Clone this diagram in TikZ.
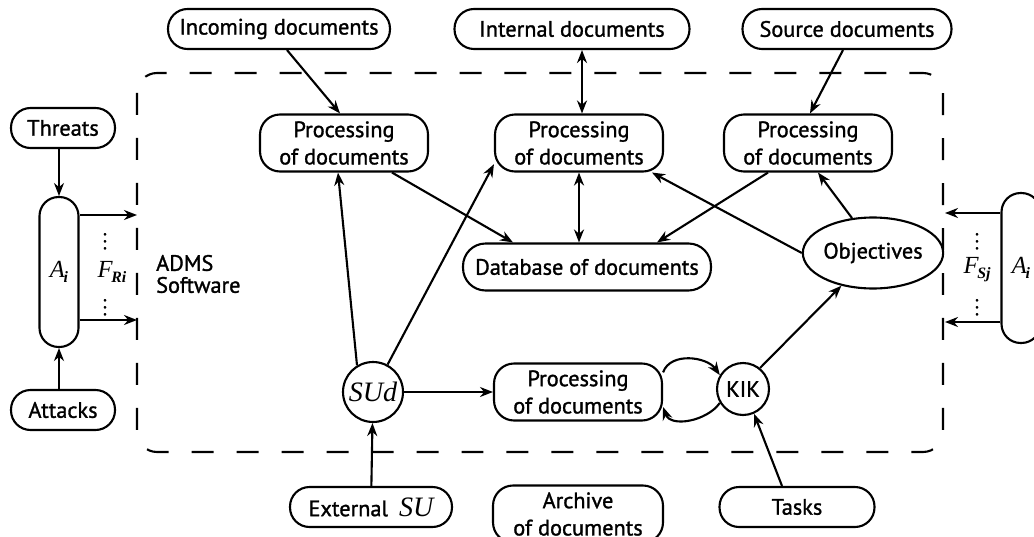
\documentclass[tikz,border=0pt]{standalone}
\usepackage{fontspec}
\setmainfont{PT Sans}[RawFeature={embolden=1.3}]
\newfontfamily\tms{Liberation Serif}
\usepackage{tikz}
\usetikzlibrary{arrows.meta,positioning,shapes.geometric}

\tikzset{
  box/.style={draw, line width=1.2pt, align=center, inner sep=0pt, font=\fontsize{12.7}{15.5}\selectfont},
  proc/.style={box, minimum width=3.36cm, minimum height=1.14cm, rounded corners=0.4cm},
  pill/.style={box, minimum height=0.8cm, rounded corners=0.39cm},
  tall/.style={box, minimum width=0.78cm, minimum height=3cm, rounded corners=0.38cm},
  dots/.style={inner sep=0pt, font=\fontsize{11}{11}\selectfont},
  link/.style={line width=1.2pt, -{Stealth[length=0.26cm,width=0.2cm]}},
  both/.style={line width=1.2pt, {Stealth[length=0.26cm,width=0.2cm]}-{Stealth[length=0.26cm,width=0.2cm]}},
}
\newcommand{\tv}[2]{{\fontsize{14}{14}\selectfont\tms\itshape #1\kern-0.05em\raisebox{-0.45ex}{\fontsize{9}{9}\selectfont\bfseries #2}}}

\begin{document}
\begin{tikzpicture}[x=0.02cm, y=0.02cm]
  \useasboundingbox (0,0) rectangle (1034,-537);

  %frame
  \draw[line width=1.2pt, dash pattern=on 0.44cm off 0.46cm, rounded corners=0.4cm] (137,-73) rectangle (943,-452);
  \node[anchor=west, align=left, font=\fontsize{12.7}{12.5}\selectfont] (adms) at (150,-274) {ADMS\\Software};

  %top row
  \node[pill, minimum width=4.44cm] (inc) at (279,-29) {Incoming documents};
  \node[pill, minimum width=4.7cm] (int) at (572,-29) {Internal documents};
  \node[pill, minimum width=4.18cm] (src) at (847,-29) {Source documents};

  %processing
  \node[proc] (p1) at (344,-143) {Processing\\of documents};
  \node[proc] (p2) at (579,-143) {Processing\\of documents};
  \node[proc] (p3) at (808,-143) {Processing\\of documents};
  \node[box, minimum width=4.96cm, minimum height=0.94cm, rounded corners=0.45cm] (db) at (587,-267) {Database of documents};
  \node[box, ellipse, minimum width=2.46cm, minimum height=1.42cm] (obj) at (873,-253) {Objectives};

  \node[box, circle, minimum size=1.2cm] (sud) at (373,-392) {\fontsize{16}{16}\selectfont\tms\itshape SUd};
  \node[proc] (p4) at (578,-392) {Processing\\of documents};
  \node[box, circle, minimum size=1.04cm] (kik) at (743,-389) {KIK};

  %bottom row
  \node[pill, minimum width=3.24cm] (ext) at (371,-507) {External\enspace{\fontsize{16}{16}\selectfont\tms\itshape SU}};
  \node[proc, minimum width=3.4cm] (arc) at (578,-514) {Archive\\of documents};
  \node[pill, minimum width=3.1cm] (tsk) at (797,-507) {Tasks};

  %left side
  \node[pill, minimum width=2.08cm] (thr) at (63,-128) {Threats};
  \node[pill, minimum width=2.08cm] (att) at (63,-410) {Attacks};
  \node[tall] (ai) at (59,-272) {\tv{A}{i}};
  \coordinate (l1) at (137,-215);
  \coordinate (l2) at (137,-320);
  \node[dots] (dl1) at (105,-236) {$\vdots$};
  \node[inner sep=0pt] (fri) at (112,-272) {\tv{F}{Ri}};
  \node[dots] (dl2) at (105,-302) {$\vdots$};

  %right side
  \node[tall] (aj) at (1021,-268) {\tv{A}{i}};
  \coordinate (r1) at (945,-213);
  \coordinate (r2) at (945,-322);
  \node[dots] (dr1) at (977,-236) {$\vdots$};
  \node[inner sep=0pt] (fsj) at (977,-270) {\tv{F}{Sj}};
  \node[dots] (dr2) at (977,-302) {$\vdots$};

  %arrows
  \draw[link] (ai.north |- thr.south) -- (ai.north);
  \draw[link] (ai.south |- att.north) -- (ai.south);
  \draw[link] (ai.east |- l1) -- (l1);
  \draw[link] (ai.east |- l2) -- (l2);
  \draw[link] (aj.west |- r1) -- (r1);
  \draw[link] (aj.west |- r2) -- (r2);

  \draw[link] ([xshift=0.16cm]inc.south) -- ([xshift=-0.08cm]p1.north);
  \draw[both] ([xshift=0.06cm]p2.north |- int.south) -- ([xshift=0.06cm]p2.north);
  \draw[link] ([xshift=-0.08cm]src.south) -- ([xshift=0.04cm]p3.north);
  \draw[link] ([xshift=0.96cm]p1.south) -- ([xshift=-1.48cm]db.north);
  \draw[both] (p2.south) -- (p2.south |- db.north);
  \draw[link] ([xshift=-0.8cm]p3.south) -- ([xshift=1.4cm]db.north);
  \draw[link] (obj.west) -- ([xshift=1.46cm]p2.south);
  \draw[link] (obj.121) -- ([xshift=0.2cm]p3.south);
  \draw[link] (kik.51) -- (obj.-134);

  \draw[link] (sud.121) -- ([xshift=-0.12cm]p1.south);
  \draw[link] (sud.62) -- (p2.194);
  \draw[link] (sud) -- (p4);
  \draw[link] (ext) -- (sud);
  \draw[link] ([xshift=-0.3cm]tsk.north) -- (kik.-66);

  \draw[link] (p4.13) to[out=70, in=125] (kik.149);
  \draw[link] (kik.211) to[out=235, in=-70] (p4.-10);
\end{tikzpicture}
\end{document}
